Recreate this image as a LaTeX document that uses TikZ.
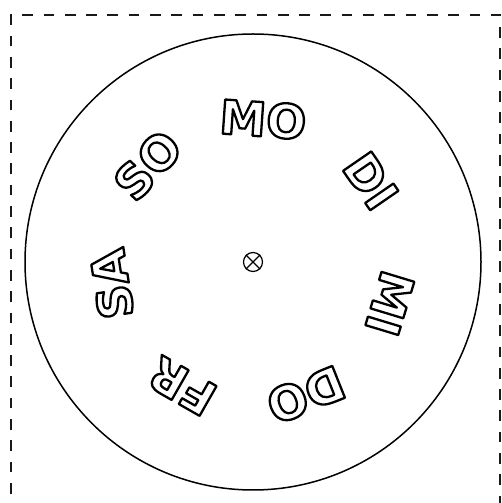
\documentclass[tikz,border=0pt]{standalone}
\usepackage{fontspec}
\usetikzlibrary{calc}
\newfontfamily\dayfont{DejaVu Sans Bold}
\newcommand\outlinetext[1]{\special{pdf:literal direct 1 Tr 2.3 w 1 j}#1\special{pdf:literal direct 0 Tr}}
\tikzset{
  frame/.style={line width=2.5pt, dash pattern=on 10.7pt off 10.6pt, draw=black!90},
  wheelstyle/.style={circle, draw, line width=1.5pt, minimum size=456pt, inner sep=0pt},
  hubstyle/.style={circle, draw, line width=1.2pt, minimum size=19pt, inner sep=0pt},
  day/.style={inner sep=0pt, font=\dayfont\fontsize{47}{47}\selectfont}
}
\begin{document}
\begin{tikzpicture}[x=1pt,y=1pt]
\useasboundingbox (0,0) rectangle (502,503);
\draw[frame] (11,-12) -- (11,488) -- (500,488) -- (500,-12);
\node[wheelstyle] (wheel) at (253,241) {};
\node[hubstyle] (hub) at (wheel.center) {};
\draw[line width=1.2pt] (hub.north west) -- (hub.south east) (hub.north east) -- (hub.south west);
\foreach \t [count=\i from 0] in {MO,DI,MI,DO,FR,SA,SO} {
  \pgfmathsetmacro\a{86-\i*360/7}
  \node[day, rotate=\a-90] (d\i) at ($(wheel.center)+(\a:143)$) {\outlinetext{\t}};
}
\end{tikzpicture}
\end{document}
